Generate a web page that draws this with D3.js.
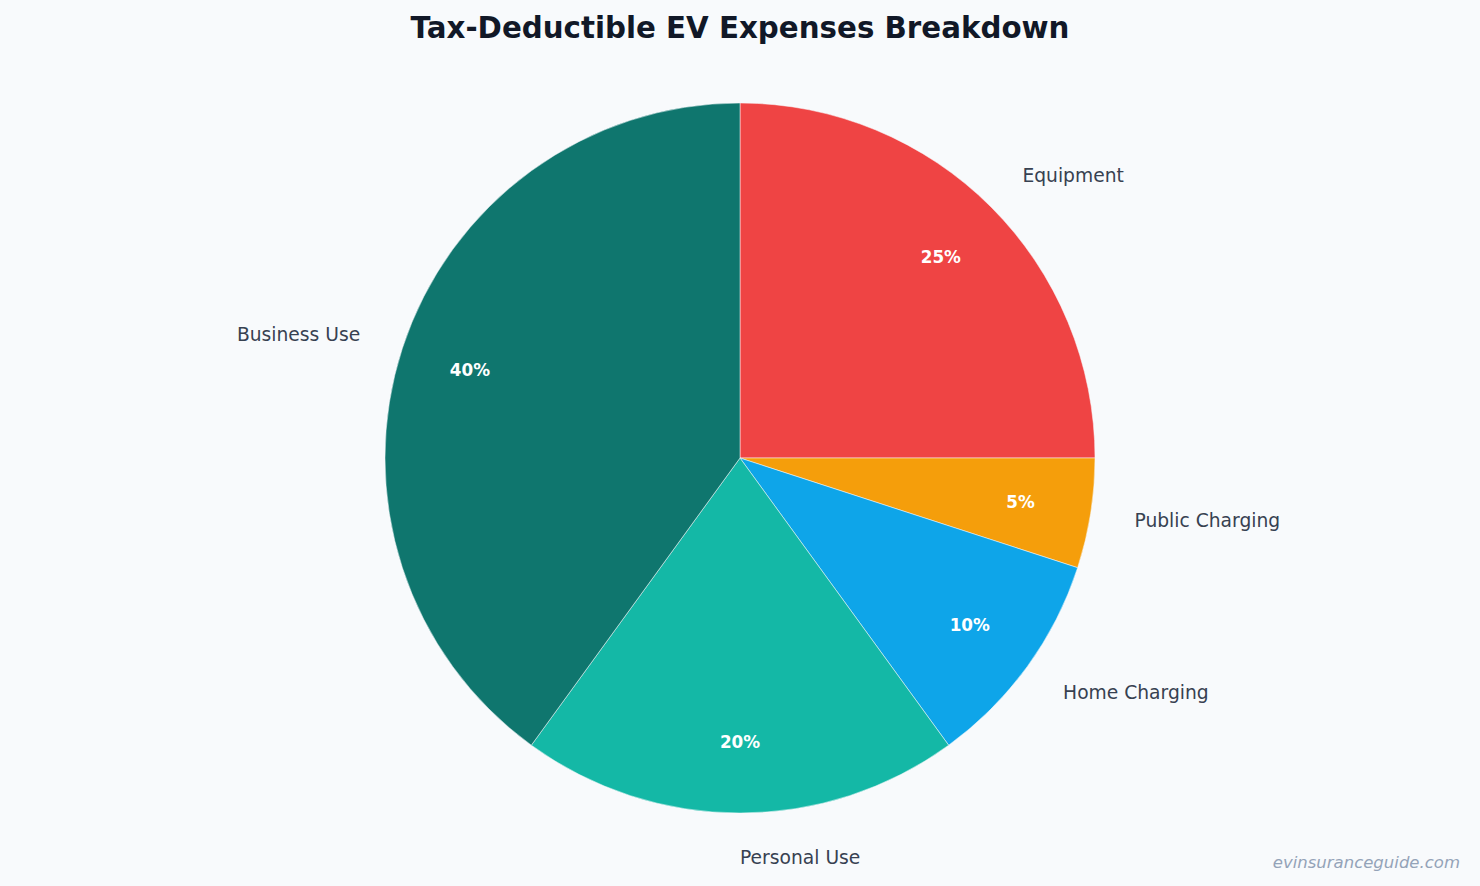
<!DOCTYPE html>
<html>
<head>
<meta charset="utf-8">
<script src="https://cdn.jsdelivr.net/npm/d3@7"></script>
<style>
  html, body { margin: 0; padding: 0; background: #f8fafc; }
  svg { display: block; font-family: "DejaVu Sans", sans-serif; }
</style>
</head>
<body>
<div id="vis"></div>
<script>
// Data
const categories = ["Equipment", "Public Charging", "Home Charging", "Personal Use", "Business Use"];
const shares = [25, 5, 10, 20, 40];
const sliceColors = ["#ef4444", "#f59e0b", "#0ea5e9", "#14b8a6", "#0f766e"];

const data = categories.map((c, i) => ({ name: c, value: shares[i], color: sliceColors[i] }));

const width = 1480;
const height = 886;
const cx = 740, cy = 458;
const radius = 355;

const svg = d3.select("#vis")
  .append("svg")
  .attr("width", width)
  .attr("height", height);

svg.append("rect")
  .attr("width", width)
  .attr("height", height)
  .attr("fill", "#f8fafc");

// Title
svg.append("text")
  .attr("x", width / 2)
  .attr("y", 38)
  .attr("text-anchor", "middle")
  .attr("font-size", "29.3px")
  .attr("font-weight", "bold")
  .attr("fill", "#111827")
  .text("Tax-Deductible EV Expenses Breakdown");

const pie = d3.pie().value(d => d.value).sort(null);
const arcs = pie(data);

const arc = d3.arc().innerRadius(0).outerRadius(radius);
const pctArc = d3.arc().innerRadius(radius * 0.8).outerRadius(radius * 0.8);
const labelArc = d3.arc().innerRadius(radius * 1.125).outerRadius(radius * 1.125);

const g = svg.append("g").attr("transform", `translate(${cx},${cy})`);

g.selectAll("path.slice")
  .data(arcs)
  .enter()
  .append("path")
  .attr("class", "slice")
  .attr("d", arc)
  .attr("fill", d => d.data.color)
  .attr("stroke", "#f8fafc")
  .attr("stroke-width", 0.5);

// Percent labels
g.selectAll("text.pct")
  .data(arcs)
  .enter()
  .append("text")
  .attr("class", "pct")
  .attr("transform", d => `translate(${pctArc.centroid(d)})`)
  .attr("text-anchor", "middle")
  .attr("dy", "0.35em")
  .attr("font-size", "16.8px")
  .attr("font-weight", "bold")
  .attr("fill", "#ffffff")
  .text(d => d.data.value + "%");

// Category labels
g.selectAll("text.cat")
  .data(arcs)
  .enter()
  .append("text")
  .attr("class", "cat")
  .attr("transform", d => `translate(${labelArc.centroid(d)})`)
  .attr("text-anchor", d => {
    const mid = (d.startAngle + d.endAngle) / 2;
    return Math.sin(mid) < -0.01 ? "end" : "start";
  })
  .attr("dy", "0.35em")
  .attr("font-size", "18.7px")
  .attr("fill", "#374151")
  .text(d => d.data.name);

// Watermark
svg.append("text")
  .attr("x", 1460)
  .attr("y", 868)
  .attr("text-anchor", "end")
  .attr("font-size", "16.5px")
  .attr("font-style", "italic")
  .attr("fill", "#94a3b8")
  .text("evinsuranceguide.com");
</script>
</body>
</html>
